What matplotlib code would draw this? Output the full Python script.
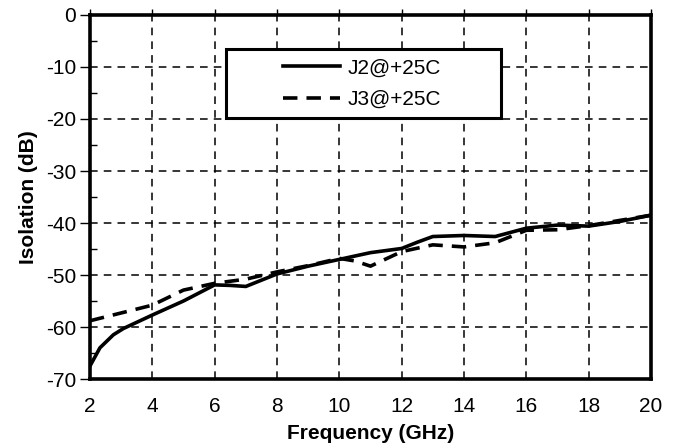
import matplotlib.pyplot as plt
from matplotlib.ticker import MultipleLocator
from matplotlib.patches import Rectangle

plt.rcParams['font.family'] = ['Liberation Sans', 'DejaVu Sans']
plt.rcParams['axes.unicode_minus'] = False

# J2@+25C (solid)
freq_j2 = [2.0, 2.32, 2.75, 3.07, 4.0, 5.0, 6.0, 6.5, 7.0, 8.0, 9.0, 10.0, 11.0, 12.0, 12.5, 13.0, 14.0, 15.0, 15.5, 16.0, 17.0, 18.0, 19.0, 20.0]
iso_j2 = [-67.5, -64.0, -61.5, -60.3, -57.7, -55.0, -51.9, -52.0, -52.2, -49.8, -48.3, -47.0, -45.7, -44.9, -43.7, -42.6, -42.4, -42.6, -41.8, -41.0, -40.4, -40.6, -39.7, -38.5]

# J3@+25C (dashed)
freq_j3 = [2.0, 3.0, 4.0, 5.0, 6.0, 7.0, 8.0, 9.0, 10.0, 10.5, 11.0, 12.0, 13.0, 14.0, 15.0, 16.0, 17.0, 18.0, 19.0, 20.0]
iso_j3 = [-58.8, -57.3, -55.8, -52.9, -51.6, -50.8, -49.4, -48.2, -46.8, -47.3, -48.3, -45.5, -44.2, -44.6, -43.8, -41.4, -41.3, -40.5, -39.5, -38.5]

x_ticks = [2, 4, 6, 8, 10, 12, 14, 16, 18, 20]
y_ticks = [0, -10, -20, -30, -40, -50, -60, -70]

fig = plt.figure(figsize=(6.77, 4.45), dpi=100)
ax = fig.add_axes([0.1329, 0.1483, 0.8287, 0.8180])

ax.plot(freq_j2, iso_j2, color='black', lw=2.6, label='J2@+25C')
ax.plot(freq_j3, iso_j3, color='black', lw=2.6, ls=(0, (4, 2.5)), label='J3@+25C')

ax.set_xlim(2, 20)
ax.set_ylim(-70, 0)
ax.set_xticks(x_ticks)
ax.set_yticks(y_ticks)
ax.yaxis.set_minor_locator(MultipleLocator(5))

ax.grid(True, which='major', color='black', ls=(0, (5, 4)), lw=1.1)
for s in ax.spines.values():
    s.set_linewidth(2.6)

ax.tick_params(axis='x', which='major', bottom=False, top=True, direction='out', length=4, width=1,
               labelsize=15, pad=9)
ax.tick_params(axis='y', which='major', direction='out', length=7, width=1, labelsize=15, pad=3)
ax.tick_params(axis='y', which='minor', direction='in', length=5, width=1)

ax.set_xlabel('Frequency (GHz)', fontsize=15, fontweight='bold', labelpad=6)
ax.set_ylabel('Isolation (dB)', fontsize=15, fontweight='bold', labelpad=6)

# legend box
box = Rectangle((0.243, 0.717), 0.490, 0.190, transform=ax.transAxes, facecolor='white',
                edgecolor='black', lw=2.2, zorder=5)
ax.add_patch(box)
leg = ax.legend(loc='upper left', bbox_to_anchor=(0.344, 0.881), fontsize=15, frameon=False,
                handlelength=2.75, borderpad=0, labelspacing=0.6, borderaxespad=0,
                handletextpad=0.35)
leg.set_zorder(6)

fig.savefig('out.png', dpi=100)
